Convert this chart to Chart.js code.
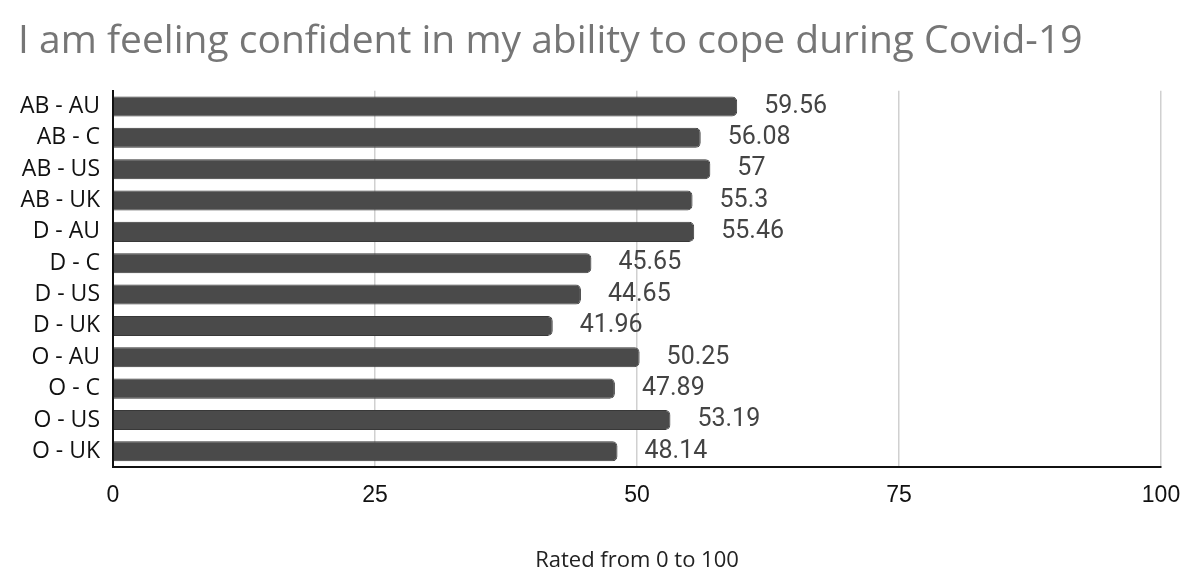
<!DOCTYPE html>
<html lang="en">
<head>
    <meta charset="UTF-8">
    <title>Confidence to cope during Covid-19</title>
    <script src="https://cdn.jsdelivr.net/npm/chart.js"></script>
    <style>
        html, body { margin: 0; padding: 0; background: #ffffff; }
        #wrap { width: 1200px; height: 588px; }
    </style>
</head>
<body>
    <div id="wrap"><canvas id="chart"></canvas></div>

    <script>
        const groups = ['AB - AU', 'AB - C', 'AB - US', 'AB - UK', 'D - AU', 'D - C', 'D - US', 'D - UK', 'O - AU', 'O - C', 'O - US', 'O - UK'];
        const ratings = [59.56, 56.08, 57, 55.3, 55.46, 45.65, 44.65, 41.96, 50.25, 47.89, 53.19, 48.14];
        const xTicks = [0, 25, 50, 75, 100];

        // writes the value just past the end of each bar
        const barLabels = {
            id: 'barLabels',
            afterDatasetsDraw(chart) {
                const ctx = chart.ctx;
                const meta = chart.getDatasetMeta(0);
                ctx.save();
                ctx.font = '25px Roboto';
                ctx.fillStyle = '#444444';
                ctx.textAlign = 'left';
                ctx.textBaseline = 'middle';
                meta.data.forEach((bar, i) => {
                    ctx.fillText(String(ratings[i]), bar.x + 27, bar.y);
                });
                ctx.restore();
            }
        };

        new Chart(document.getElementById('chart'), {
            type: 'bar',
            data: {
                labels: groups,
                datasets: [{
                    data: ratings,
                    backgroundColor: '#4a4a4a',
                    borderColor: '#383838',
                    borderWidth: 1,
                    borderRadius: 5,
                    borderSkipped: 'start',
                    barPercentage: 0.64,
                    categoryPercentage: 1
                }]
            },
            options: {
                indexAxis: 'y',
                responsive: true,
                maintainAspectRatio: false,
                animation: false,
                layout: { padding: { left: 18, right: 39, top: 0, bottom: 0 } },
                plugins: {
                    legend: { display: false },
                    tooltip: { enabled: false },
                    title: {
                        display: true,
                        text: 'I am feeling confident in my ability to cope during Covid-19',
                        align: 'start',
                        color: '#767676',
                        font: { family: 'Open Sans', size: 39, weight: 'normal', lineHeight: 1.2 },
                        padding: { top: 18, bottom: 26 }
                    }
                },
                scales: {
                    x: {
                        min: 0,
                        max: 100,
                        afterBuildTicks(scale) {
                            scale.ticks = xTicks.map(v => ({ value: v }));
                        },
                        afterFit(scale) { scale.height = 121; },
                        grid: { color: '#d0d0d0', lineWidth: 1.5, drawTicks: false },
                        border: { color: '#111111', width: 2 },
                        ticks: {
                            color: '#111111',
                            font: { family: 'Liberation Sans', size: 23 },
                            padding: 15
                        },
                        title: {
                            display: true,
                            text: 'Rated from 0 to 100',
                            color: '#222222',
                            font: { family: 'Open Sans', size: 22 },
                            padding: { top: 0, bottom: 14 }
                        }
                    },
                    y: {
                        afterFit(scale) { scale.width = 95; },
                        grid: { display: false, drawTicks: false },
                        border: { color: '#111111', width: 2 },
                        ticks: {
                            color: '#111111',
                            font: { family: 'Open Sans', size: 23 },
                            padding: 13
                        }
                    }
                }
            },
            plugins: [barLabels]
        });
    </script>
</body>
</html>
